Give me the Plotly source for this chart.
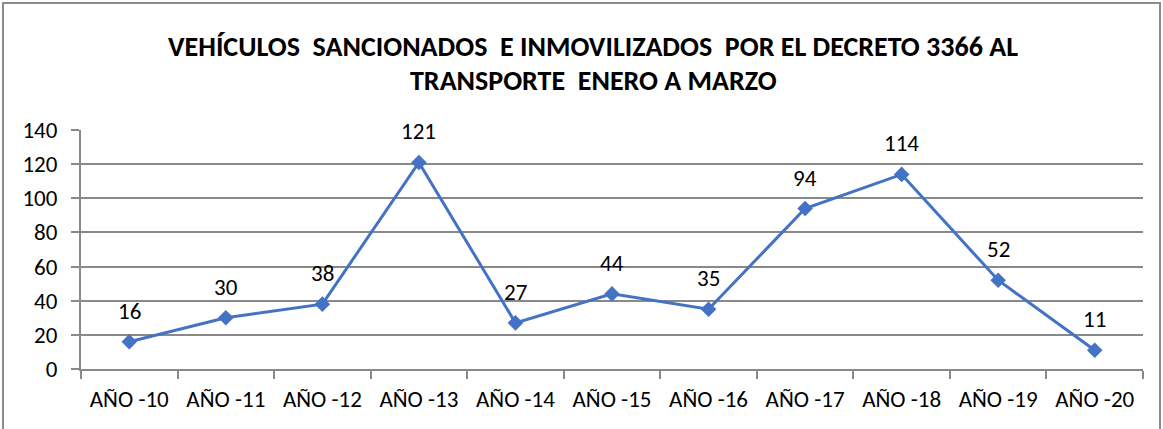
import plotly.graph_objects as go

categories = ["AÑO -10", "AÑO -11", "AÑO -12", "AÑO -13", "AÑO -14", "AÑO -15",
              "AÑO -16", "AÑO -17", "AÑO -18", "AÑO -19", "AÑO -20"]
values = [16, 30, 38, 121, 27, 44, 35, 94, 114, 52, 11]
y_ticks = [0, 20, 40, 60, 80, 100, 120, 140]
title_lines = ["VEHÍCULOS  SANCIONADOS  E INMOVILIZADOS  POR EL DECRETO 3366 AL",
               "TRANSPORTE  ENERO A MARZO"]

grid = "#898989"
font_family = "Carlito, Calibri, Lato, Liberation Sans, Arial, sans-serif"
fs = 23
W, H = 1163, 429
ml, mr, mt, mb = 81, 20, 130, 60
pw, ph = W - ml - mr, H - mt - mb

fig = go.Figure()
fig.add_trace(go.Scatter(
    x=categories, y=values, mode="lines+markers",
    line=dict(color="#4472C4", width=3),
    marker=dict(symbol="diamond", size=12, color="#4472C4"),
    cliponaxis=False, showlegend=False,
))

annotations = [dict(x=c, y=v, text=str(v), showarrow=False, xanchor="center",
                    yanchor="bottom", yshift=15,
                    font=dict(size=fs, color="#000000", family=font_family))
               for c, v in zip(categories, values)]
for i, line in enumerate(title_lines):
    ypix = [47, 80][i]
    annotations.append(dict(
        xref="paper", yref="paper", x=(593 - ml) / pw, y=1 + (mt - ypix) / ph,
        xanchor="center", yanchor="middle", showarrow=False,
        text="<b>" + line + "</b>",
        font=dict(size=28, color="#000000", family=font_family)))

fig.update_layout(
    width=W, height=H,
    margin=dict(l=ml, r=mr, t=mt, b=mb, autoexpand=False),
    paper_bgcolor="white", plot_bgcolor="white",
    font=dict(family=font_family, color="#000000"),
    annotations=annotations,
    shapes=[dict(type="rect", xref="paper", yref="paper",
                 x0=-(ml - 3) / pw, x1=1 + (mr - 3) / pw, y0=-0.5, y1=1 + (mt - 3) / ph,
                 line=dict(color="#8c8c8c", width=2), layer="below")],
)
fig.update_xaxes(
    type="category", tickson="boundaries", ticks="outside", ticklen=8,
    tickcolor=grid, tickwidth=2, showline=True, linecolor=grid, linewidth=2,
    showgrid=False, tickfont=dict(size=fs, family=font_family, color="#000000"),
    range=[-0.5, 10.5], automargin=False, ticklabelstandoff=8,
)
fig.update_yaxes(
    range=[0, 140], tickvals=y_ticks, ticks="outside", ticklen=8, tickcolor=grid,
    tickwidth=2, showline=True, linecolor=grid, linewidth=2, gridcolor=grid,
    gridwidth=2, zeroline=False, automargin=False, ticklabelstandoff=9,
    tickfont=dict(size=fs, family=font_family, color="#000000"),
)

fig.write_html("out.html", config={"displayModeBar": False},
               post_script="document.body.style.margin='0';")
